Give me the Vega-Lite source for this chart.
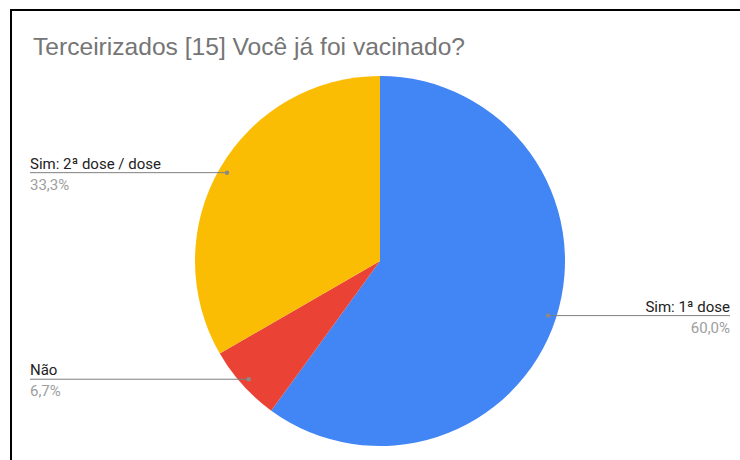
{
  "$schema": "https://vega.github.io/schema/vega-lite/v6.json",
  "autosize": "none",
  "padding": {"left": 11, "top": 10, "right": -3, "bottom": -3},
  "width": 732,
  "height": 453,
  "background": "#ffffff",
  "config": {
    "view": {"stroke": "#000000", "strokeWidth": 2},
    "font": "Roboto"
  },
  "title": {
    "text": "Terceirizados [15] Você já foi vacinado?",
    "anchor": "start",
    "frame": "group",
    "orient": "top",
    "baseline": "alphabetic",
    "offset": 0,
    "dx": 22,
    "dy": 70,
    "font": "Liberation Sans",
    "fontSize": 24.6,
    "fontWeight": "normal",
    "color": "#757575"
  },
  "data": {
    "values": [
      {"resposta": "Sim: 1ª dose", "valor": 9, "pct": "60,0%", "ordem": 1},
      {"resposta": "Não", "valor": 1, "pct": "6,7%", "ordem": 2},
      {"resposta": "Sim: 2ª dose / dose", "valor": 5, "pct": "33,3%", "ordem": 3}
    ]
  },
  "transform": [
    {"joinaggregate": [{"op": "sum", "field": "valor", "as": "total"}]},
    {"window": [{"op": "sum", "field": "valor", "as": "acum"}], "sort": [{"field": "ordem"}], "frame": [null, 0]},
    {"calculate": "(datum.acum - datum.valor / 2) / datum.total * 2 * PI", "as": "meio"},
    {"calculate": "0.955 * sin(datum.meio)", "as": "px"},
    {"calculate": "0.955 * cos(datum.meio)", "as": "py"},
    {"calculate": "sin(datum.meio) > 0 ? 1 : -1", "as": "lado"},
    {"calculate": "datum.lado * 1.892", "as": "pfim"}
  ],
  "layer": [
    {
      "mark": {"type": "arc", "outerRadius": 185},
      "encoding": {
        "theta": {"field": "valor", "type": "quantitative", "stack": true},
        "order": {"field": "ordem", "type": "quantitative"},
        "color": {
          "field": "resposta",
          "type": "nominal",
          "scale": {"domain": ["Sim: 1ª dose", "Não", "Sim: 2ª dose / dose"], "range": ["#4285F4", "#EA4335", "#FBBC04"]},
          "legend": null
        },
        "x": {"datum": 0, "type": "quantitative", "scale": {"domain": [-1.99459, 1.96216], "nice": false, "zero": false}, "axis": null},
        "y": {"datum": 0, "type": "quantitative", "scale": {"domain": [-1.0919, 1.3568], "nice": false, "zero": false}, "axis": null}
      }
    },
    {
      "mark": {"type": "rule", "color": "#7f7f7f", "strokeWidth": 1},
      "encoding": {
        "x": {"field": "px", "type": "quantitative", "scale": {"domain": [-1.99459, 1.96216], "nice": false, "zero": false}, "axis": null},
        "x2": {"field": "pfim"},
        "y": {"field": "py", "type": "quantitative", "scale": {"domain": [-1.0919, 1.3568], "nice": false, "zero": false}, "axis": null}
      }
    },
    {
      "mark": {"type": "point", "filled": true, "color": "#8a8a8a", "size": 20, "opacity": 1},
      "encoding": {
        "x": {"field": "px", "type": "quantitative", "scale": {"domain": [-1.99459, 1.96216], "nice": false, "zero": false}, "axis": null},
        "y": {"field": "py", "type": "quantitative", "scale": {"domain": [-1.0919, 1.3568], "nice": false, "zero": false}, "axis": null}
      }
    },
    {
      "mark": {"type": "text", "font": "Roboto", "fontSize": 15, "color": "#222222", "baseline": "alphabetic", "dy": -4, "align": {"expr": "datum.lado > 0 ? 'right' : 'left'"}},
      "encoding": {
        "x": {"field": "pfim", "type": "quantitative", "scale": {"domain": [-1.99459, 1.96216], "nice": false, "zero": false}, "axis": null},
        "y": {"field": "py", "type": "quantitative", "scale": {"domain": [-1.0919, 1.3568], "nice": false, "zero": false}, "axis": null},
        "text": {"field": "resposta"}
      }
    },
    {
      "mark": {"type": "text", "font": "Roboto", "fontSize": 15, "color": "#9e9e9e", "baseline": "alphabetic", "dy": 17, "align": {"expr": "datum.lado > 0 ? 'right' : 'left'"}},
      "encoding": {
        "x": {"field": "pfim", "type": "quantitative", "scale": {"domain": [-1.99459, 1.96216], "nice": false, "zero": false}, "axis": null},
        "y": {"field": "py", "type": "quantitative", "scale": {"domain": [-1.0919, 1.3568], "nice": false, "zero": false}, "axis": null},
        "text": {"field": "pct"}
      }
    }
  ]
}
